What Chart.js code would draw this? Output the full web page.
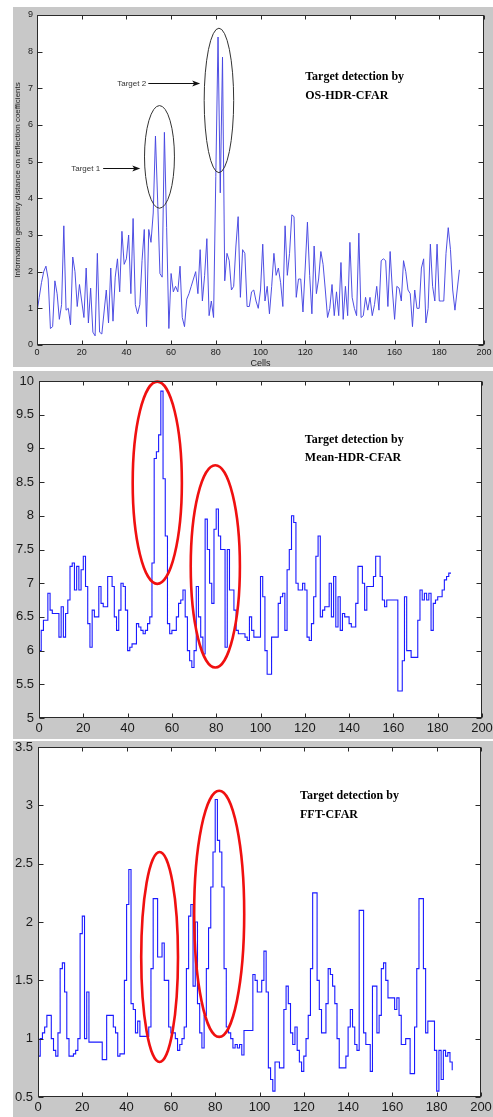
<!DOCTYPE html>
<html>
<head>
<meta charset="utf-8">
<script src="https://cdn.jsdelivr.net/npm/chart.js@4.4.0/dist/chart.umd.min.js"></script>
<style>
  body { margin: 0; background: #fff; width: 493px; height: 1117px; overflow: hidden; position: relative; }
  canvas { position: absolute; left: 0; }
</style>
</head>
<body>
<canvas id="osChart" width="493" height="370" style="top:0"></canvas>
<canvas id="meanChart" width="493" height="370" style="top:370px"></canvas>
<canvas id="fftChart" width="493" height="377" style="top:740px"></canvas>
<script>
// tick labels
const xTicks = [0, 20, 40, 60, 80, 100, 120, 140, 160, 180, 200]
const yTicksOs = [0, 1, 2, 3, 4, 5, 6, 7, 8, 9]
const yTicksMean = [5, 5.5, 6, 6.5, 7, 7.5, 8, 8.5, 9, 9.5, 10]
const yTicksFft = [0.5, 1, 1.5, 2, 2.5, 3, 3.5]

// OS-HDR-CFAR, one value per cell (0..189)
const osHdr = [
  0.9, 1.3, 1.7, 2.0, 2.15, 1.8, 0.45, 0.5, 1.75, 1.4,
  0.7, 1.1, 3.25, 0.95, 1.0, 0.55, 2.4, 2.0, 1.05, 1.65,
  1.2, 0.75, 2.1, 0.6, 1.55, 0.35, 0.25, 2.5, 0.35, 0.3,
  0.9, 1.5, 0.6, 2.1, 0.65, 1.85, 2.35, 1.45, 3.1, 2.2,
  2.35, 3.0, 1.4, 3.45, 1.1, 0.85, 1.1, 2.3, 3.15, 0.5,
  3.15, 2.8, 3.6, 5.7, 3.9, 1.95, 1.85, 5.8, 3.2, 0.45,
  1.95, 1.45, 1.6, 1.45, 2.15, 0.75, 0.5, 1.25, 1.4, 1.6,
  1.8, 2.0, 1.4, 2.6, 1.2, 1.9, 2.9, 0.8, 1.2, 0.75,
  4.6, 8.4, 4.15, 7.85, 1.75, 2.5, 2.3, 1.5, 1.6, 2.7,
  3.5, 1.3, 2.6, 2.5, 1.05, 1.05, 1.45, 1.5, 1.2, 1.0,
  1.5, 2.75, 1.2, 1.6, 0.85, 1.6, 2.5, 1.9, 2.1, 1.7,
  1.05, 3.25, 1.9, 2.5, 3.55, 3.5, 1.3, 1.8, 1.8, 0.9,
  2.1, 3.35, 1.9, 0.85, 2.7, 1.4, 1.8, 2.55, 2.2, 1.5,
  0.75, 1.0, 1.65, 0.8, 1.45, 0.8, 2.25, 0.7, 1.6, 0.8,
  2.8, 1.3, 1.0, 0.8, 3.05, 0.75, 0.8, 1.3, 0.95, 1.3,
  0.8, 1.1, 1.6, 0.95, 2.3, 2.35, 2.3, 1.05, 2.55, 1.5,
  0.7, 1.6, 1.55, 1.2, 2.3, 2.0, 1.5, 1.4, 0.5, 1.5,
  1.0, 1.0, 2.1, 2.35, 0.6, 1.0, 2.75, 1.6, 1.2, 2.75,
  1.2, 1.2, 1.2, 2.5, 3.2, 2.6, 1.5, 0.95, 1.5, 2.05
]

// Mean-HDR-CFAR (0..186)
const meanHdr = [
  6.0, 6.3, 6.45, 6.45, 6.85, 6.6, 6.55, 6.55, 6.55, 6.2,
  6.65, 6.2, 6.55, 6.75, 7.25, 7.3, 6.9, 7.25, 6.9, 7.2,
  7.4, 6.95, 6.4, 6.05, 6.6, 6.5, 6.5, 6.95, 6.7, 6.65,
  6.65, 7.1, 7.1, 6.95, 6.5, 6.3, 6.6, 7.0, 6.95, 6.6,
  6.0, 6.05, 6.1, 6.1, 6.4, 6.35, 6.3, 6.25, 6.3, 6.4,
  6.5, 7.3, 8.85, 8.95, 9.2, 9.85, 8.55, 7.7, 6.4, 6.25,
  6.3, 6.3, 6.5, 6.7, 6.75, 6.9, 6.5, 6.0, 5.85, 5.75,
  6.0, 6.95, 6.5, 6.2, 5.95, 7.95, 7.5, 7.0, 6.7, 7.8,
  8.1, 7.7, 7.5, 7.5, 6.05, 7.5, 6.9, 6.9, 6.6, 6.3,
  6.25, 6.25, 6.25, 6.2, 6.15, 6.5, 6.3, 6.2, 6.2, 6.2,
  7.1, 6.8, 6.0, 5.65, 5.65, 6.2, 6.2, 6.2, 6.7, 6.8,
  6.85, 6.3, 7.2, 7.5, 8.0, 7.9, 7.0, 6.9, 6.9, 7.0,
  6.9, 6.2, 6.15, 6.4, 6.8, 7.4, 7.7, 6.5, 6.6, 6.65,
  6.65, 7.0, 6.5, 7.1, 6.35, 6.8, 6.3, 6.55, 6.5, 6.5,
  6.4, 6.35, 6.35, 6.7, 7.25, 7.25, 7.0, 6.6, 6.95, 6.95,
  6.95, 7.1, 7.4, 7.4, 7.1, 6.75, 6.65, 6.75, 6.75, 6.75,
  6.75, 6.75, 5.4, 5.4, 5.85, 6.8, 6.0, 6.0, 5.9, 5.9,
  5.9, 6.45, 6.9, 6.75, 6.85, 6.75, 6.85, 6.3, 6.7, 6.75,
  6.8, 6.8, 6.9, 7.05, 7.1, 7.15, 7.15
]

// FFT-CFAR (0..187)
const fftCfar = [
  0.85, 1.0, 1.05, 1.1, 1.2, 1.2, 1.0, 0.9, 0.85, 1.05,
  1.6, 1.65, 1.4, 1.0, 0.85, 0.85, 0.87, 0.9, 1.0, 1.9,
  2.05, 1.0, 1.4, 0.97, 0.97, 0.97, 0.97, 0.97, 0.97, 0.82,
  0.82, 1.2, 1.2, 1.2, 1.1, 1.05, 0.85, 0.87, 0.87, 1.5,
  2.15, 2.45, 1.3, 1.25, 1.05, 1.15, 1.02, 1.02, 1.02, 1.02,
  1.1, 1.6, 2.2, 2.2, 1.7, 1.7, 1.82, 1.5, 1.5, 1.1,
  1.05, 1.05, 1.0, 0.9, 0.95, 1.0, 1.1, 1.6, 2.05, 2.15,
  1.45, 2.0, 1.3, 1.05, 0.92, 1.2, 1.6, 1.95, 2.3, 2.6,
  3.05, 2.7, 2.6, 2.3, 1.6, 1.1, 1.05, 1.0, 0.92, 0.95,
  0.92, 0.95, 0.86, 1.07, 1.07, 1.07, 1.07, 1.55, 1.5, 1.4,
  1.4, 1.5, 1.75, 1.4, 0.75, 0.65, 0.55, 0.8, 0.8, 0.75,
  0.75, 1.25, 1.45, 1.3, 1.05, 0.95, 1.1, 0.9, 0.8, 0.72,
  0.85, 1.0, 1.2, 1.6, 2.25, 2.25, 1.5, 1.25, 1.05, 1.05,
  1.3, 1.6, 1.55, 1.45, 1.3, 1.0, 0.75, 0.75, 0.75, 0.85,
  1.1, 1.25, 1.1, 0.95, 0.9, 2.1, 2.1, 1.05, 0.95, 0.95,
  0.72, 1.45, 1.45, 1.05, 1.2, 1.6, 1.65, 1.5, 1.35, 1.35,
  1.35, 1.25, 1.35, 1.2, 0.95, 0.95, 1.0, 1.0, 0.7, 0.7,
  1.1, 1.6, 2.2, 2.2, 1.6, 1.05, 1.15, 1.15, 1.15, 0.9,
  0.55, 0.9, 0.65, 0.9, 0.85, 0.88, 0.8, 0.73
]

// ellipses and notes in data units
const osRings = [
  { x: 54.8, y: 5.13, rx: 6.7, ry: 1.4 },
  { x: 81.4, y: 6.67, rx: 6.6, ry: 1.97 }
]
const osArrows = [
  { label: 'Target 1', tx: 15.3, x1: 29.6, x2: 46.2, y: 4.83 },
  { label: 'Target 2', tx: 35.9, x1: 49.8, x2: 73.0, y: 7.14 }
]
const meanRings = [
  { x: 53.4, y: 8.49, rx: 11.1, ry: 1.5 },
  { x: 79.6, y: 7.25, rx: 11.1, ry: 1.5 }
]
const fftRings = [
  { x: 54.9, y: 1.70, rx: 8.3, ry: 0.9 },
  { x: 81.8, y: 2.07, rx: 11.3, ry: 1.055 }
]

function matlabAxes(cfg) {
  return {
    id: 'matlab',
    beforeDraw(chart) {
      const ctx = chart.ctx, a = chart.chartArea
      ctx.save()
      ctx.fillStyle = '#c8c8c8'
      ctx.fillRect(13, cfg.bgTop, 480, cfg.bgBottom - cfg.bgTop)
      ctx.fillStyle = '#fff'
      ctx.fillRect(a.left, a.top, a.right - a.left, a.bottom - a.top)
      ctx.restore()
    },
    afterDatasetsDraw(chart) {
      const ctx = chart.ctx, a = chart.chartArea
      const xs = chart.scales.x, ys = chart.scales.y
      ctx.save()

      // rings
      ctx.strokeStyle = cfg.ringColor
      ctx.lineWidth = cfg.ringWidth
      cfg.rings.forEach(r => {
        const cx = xs.getPixelForValue(r.x), cy = ys.getPixelForValue(r.y)
        const rx = Math.abs(xs.getPixelForValue(r.x + r.rx) - cx)
        const ry = Math.abs(ys.getPixelForValue(r.y + r.ry) - cy)
        ctx.beginPath()
        ctx.ellipse(cx, cy, rx, ry, 0, 0, Math.PI * 2)
        ctx.stroke()
      })

      // arrows
      ;(cfg.arrows || []).forEach(ar => {
        const y = Math.round(ys.getPixelForValue(ar.y)) + 0.5
        const x1 = xs.getPixelForValue(ar.x1), x2 = xs.getPixelForValue(ar.x2)
        ctx.fillStyle = '#333'
        ctx.font = '8px "Liberation Sans", Arial, sans-serif'
        ctx.textBaseline = 'middle'
        ctx.textAlign = 'left'
        ctx.fillText(ar.label, xs.getPixelForValue(ar.tx), y)
        ctx.strokeStyle = '#111'
        ctx.lineWidth = 1
        ctx.beginPath()
        ctx.moveTo(x1, y)
        ctx.lineTo(x2 - 5, y)
        ctx.stroke()
        ctx.fillStyle = '#111'
        ctx.beginPath()
        ctx.moveTo(x2, y)
        ctx.lineTo(x2 - 8, y - 3)
        ctx.lineTo(x2 - 6, y)
        ctx.lineTo(x2 - 8, y + 3)
        ctx.closePath()
        ctx.fill()
      })

      // note
      ctx.fillStyle = '#000'
      ctx.font = 'bold 12px "Liberation Serif", "Times New Roman", serif'
      ctx.textBaseline = 'middle'
      ctx.textAlign = 'left'
      cfg.note.lines.forEach((t, i) => {
        ctx.fillText(t, xs.getPixelForValue(cfg.note.x), ys.getPixelForValue(cfg.note.y[i]))
      })

      // box and inward ticks
      const L = Math.round(a.left) + 0.5, R = Math.round(a.right) - 0.5
      const T = Math.round(a.top) + 0.5, B = Math.round(a.bottom) - 0.5
      ctx.strokeStyle = '#2a2a2a'
      ctx.lineWidth = 1
      ctx.beginPath()
      xs.ticks.forEach(t => {
        const px = Math.round(xs.getPixelForValue(t.value)) + 0.5
        ctx.moveTo(px, B); ctx.lineTo(px, B - 4)
        ctx.moveTo(px, T); ctx.lineTo(px, T + 4)
      })
      ys.ticks.forEach(t => {
        const py = Math.round(ys.getPixelForValue(t.value)) + 0.5
        ctx.moveTo(L, py); ctx.lineTo(L + 5, py)
        ctx.moveTo(R, py); ctx.lineTo(R - 5, py)
      })
      ctx.stroke()
      ctx.strokeRect(L, T, R - L, B - T)
      ctx.restore()
    }
  }
}

function makeChart(id, values, cfg) {
  const points = values.map((v, i) => ({ x: i, y: v }))
  const canvasH = document.getElementById(id).height
  new Chart(document.getElementById(id), {
    type: 'line',
    data: {
      datasets: [{
        data: points,
        borderColor: cfg.lineColor,
        borderWidth: cfg.lineWidth,
        pointRadius: 0,
        tension: 0,
        stepped: cfg.stepped,
        fill: false
      }]
    },
    options: {
      responsive: false,
      animation: false,
      devicePixelRatio: 1,
      layout: { padding: { top: cfg.plot.top, right: 493 - cfg.plot.right, left: 0, bottom: 0 } },
      plugins: { legend: { display: false }, tooltip: { enabled: false } },
      scales: {
        x: {
          type: 'linear',
          min: 0,
          max: 200,
          afterBuildTicks: s => { s.ticks = xTicks.map(v => ({ value: v })) },
          afterFit: s => { s.height = canvasH - cfg.plot.bottom; s.paddingLeft = 0; s.paddingRight = 0 },
          grid: { display: false, drawTicks: false },
          border: { display: false },
          ticks: {
            autoSkip: false,
            maxRotation: 0,
            padding: cfg.xPad,
            color: '#1a1a1a',
            font: { family: '"Liberation Sans", Arial, sans-serif', size: cfg.tickSize },
            callback: v => String(v)
          },
          title: cfg.xTitle ? {
            display: true,
            text: cfg.xTitle,
            color: '#222',
            padding: { top: 0, bottom: 0.6 },
            font: { family: '"Liberation Sans", Arial, sans-serif', size: 9 }
          } : { display: false }
        },
        y: {
          min: cfg.yTicks[0],
          max: cfg.yTicks[cfg.yTicks.length - 1],
          afterBuildTicks: s => { s.ticks = cfg.yTicks.map(v => ({ value: v })) },
          afterFit: s => { s.width = cfg.plot.left; s.paddingTop = 0; s.paddingBottom = 0 },
          grid: { display: false, drawTicks: false },
          border: { display: false },
          ticks: {
            autoSkip: false,
            padding: cfg.yPad,
            color: '#1a1a1a',
            font: { family: '"Liberation Sans", Arial, sans-serif', size: cfg.tickSize },
            callback: v => String(+v.toFixed(2))
          },
          title: cfg.yTitle ? {
            display: true,
            text: cfg.yTitle,
            color: '#222',
            padding: { top: 13.2, bottom: 0 },
            font: { family: '"Liberation Sans", Arial, sans-serif', size: 8 }
          } : { display: false }
        }
      }
    },
    plugins: [matlabAxes(cfg)]
  })
}

makeChart('osChart', osHdr, {
  plot: { left: 37, right: 484, top: 15, bottom: 345 },
  bgTop: 7, bgBottom: 367,
  lineColor: 'rgba(70,70,225,0.95)', lineWidth: 1, stepped: false,
  yTicks: yTicksOs, tickSize: 9, xPad: 2, yPad: 4,
  xTitle: 'Cells',
  yTitle: 'Information geometry distance on reflection coefficients',
  rings: osRings, ringColor: '#333', ringWidth: 1,
  arrows: osArrows,
  note: { x: 120, y: [7.31, 6.79], lines: ['Target detection by', 'OS-HDR-CFAR'] }
})

makeChart('meanChart', meanHdr, {
  plot: { left: 39, right: 482, top: 11, bottom: 348 },
  bgTop: 1, bgBottom: 369,
  lineColor: '#1a1aff', lineWidth: 1.1, stepped: true,
  yTicks: yTicksMean, tickSize: 13, xPad: 3, yPad: 5,
  rings: meanRings, ringColor: '#f01010', ringWidth: 2.6,
  note: { x: 120, y: [9.12, 8.86], lines: ['Target detection by', 'Mean-HDR-CFAR'] }
})

makeChart('fftChart', fftCfar, {
  plot: { left: 38, right: 481, top: 7, bottom: 357 },
  bgTop: 1, bgBottom: 377,
  lineColor: '#1a1aff', lineWidth: 1.1, stepped: true,
  yTicks: yTicksFft, tickSize: 13, xPad: 3, yPad: 5,
  rings: fftRings, ringColor: '#f01010', ringWidth: 2.6,
  note: { x: 118.3, y: [3.08, 2.92], lines: ['Target detection by', 'FFT-CFAR'] }
})
</script>
</body>
</html>
